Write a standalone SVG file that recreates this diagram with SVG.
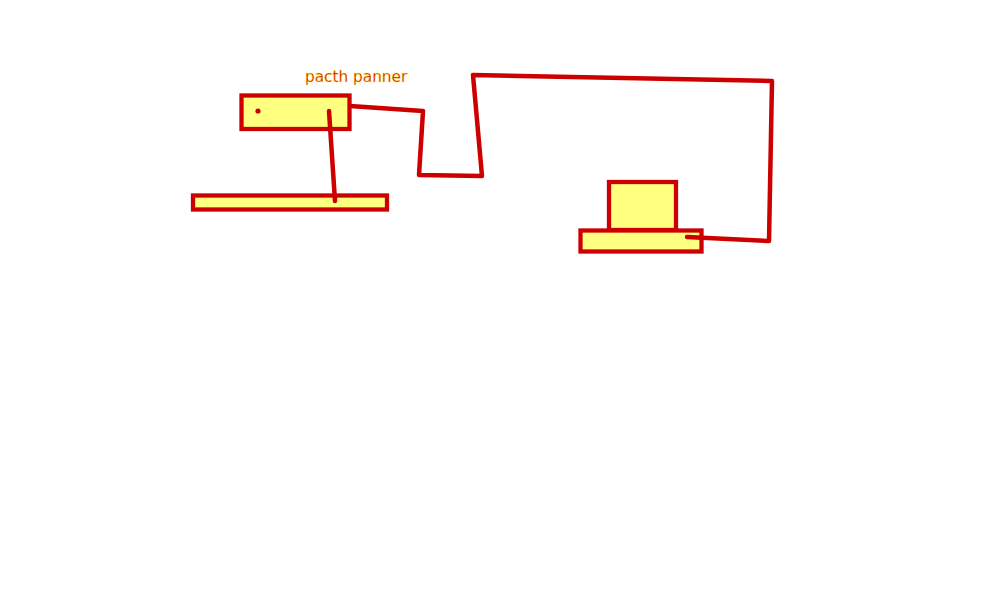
<svg xmlns="http://www.w3.org/2000/svg" width="1000" height="600" viewBox="0 0 1000 600">
<style>
.box{fill:#ffff80;stroke:#cc0000;stroke-width:4.3}
.wire{fill:none;stroke:#cc0000;stroke-width:4.5;stroke-linecap:round;stroke-linejoin:round}
.lbl{font-family:"DejaVu Sans",sans-serif;font-size:15.3px;fill:#cc0000;stroke:#ffee00;stroke-width:0.35}
</style>
<rect width="1000" height="600" fill="#ffffff"/>
<g id="patch-panel">
<rect class="box" x="241.5" y="95.5" width="108" height="33.5"/>
<circle cx="258" cy="111" r="2.6" fill="#cc0000"/>
<text class="lbl" x="305" y="82">pacth panner</text>
</g>
<g id="shelf">
<rect class="box" x="193" y="195.5" width="194" height="14"/>
</g>
<g id="device">
<rect class="box" x="609" y="182" width="67" height="48"/>
<rect class="box" x="580.5" y="230.5" width="121" height="21"/>
</g>
<g id="connectors">
<polyline class="wire" points="329,111 335,201"/>
<polyline class="wire" points="350,106 423,111 419,175 482,176 473,75 772,81 769,241 687,237"/>
</g>
</svg>
